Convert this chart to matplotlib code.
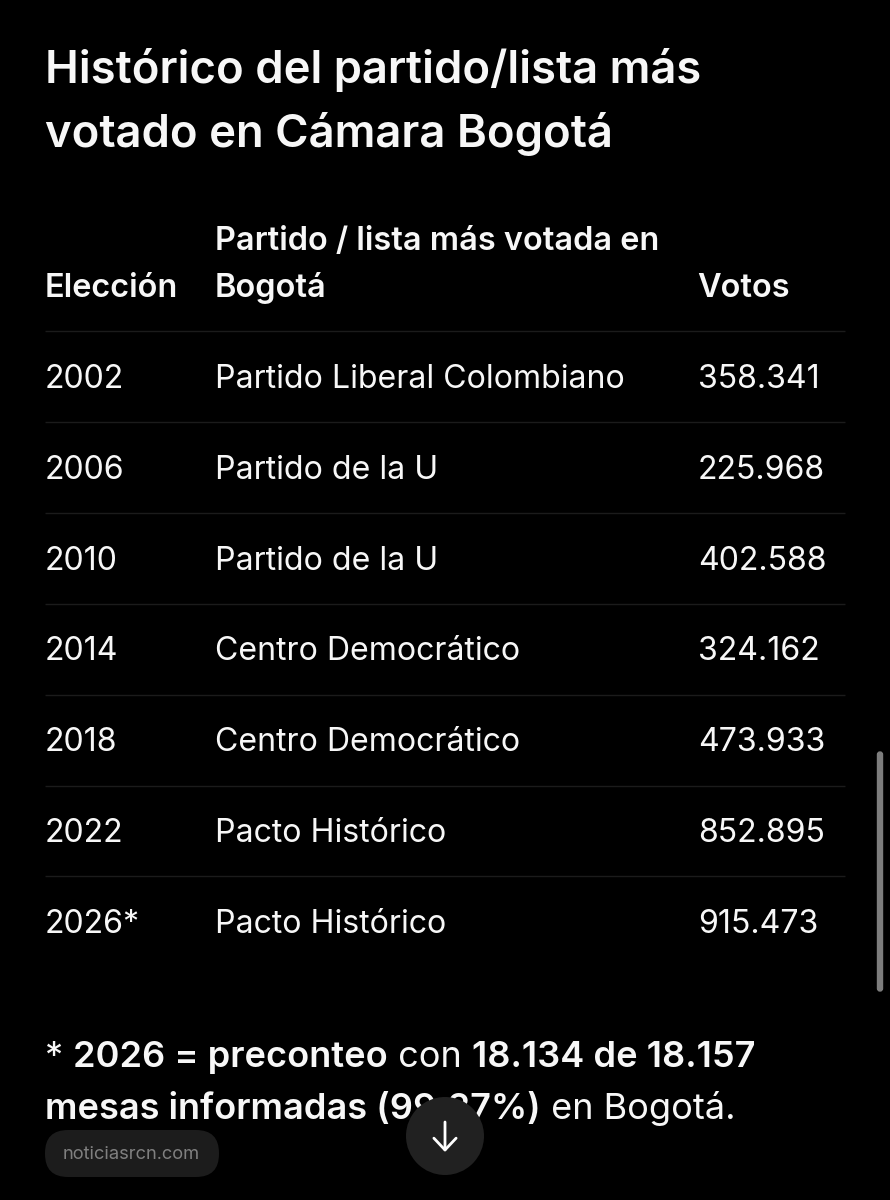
import matplotlib
matplotlib.use('Agg')
import matplotlib.pyplot as plt
from matplotlib.patches import Circle, FancyBboxPatch

# datos de la tabla
titulo = ['Histórico del partido/lista más', 'votado en Cámara Bogotá']
encabezados = ['Elección', 'Partido / lista más votada en', 'Bogotá', 'Votos']
elecciones = ['2002', '2006', '2010', '2014', '2018', '2022', '2026*']
partidos = ['Partido Liberal Colombiano', 'Partido de la U', 'Partido de la U',
            'Centro Democrático', 'Centro Democrático', 'Pacto Histórico', 'Pacto Histórico']
votos = ['358.341', '225.968', '402.588', '324.162', '473.933', '852.895', '915.473']

nota_1 = [('* ', False), ('2026 = preconteo', True), (' con ', False), ('18.134 de 18.157', True)]
nota_2 = [('mesas informadas (99.27%)', True), (' en Bogotá.', False)]

BLANCO = '#f7f7f7'
LINEA = '#1b1b1b'

plt.rcParams['font.family'] = ['Inter', 'DejaVu Sans']

fig = plt.figure(figsize=(8.9, 12), dpi=100, facecolor='black')
ax = fig.add_axes([0, 0, 1, 1])
ax.set_xlim(0, 890)
ax.set_ylim(1200, 0)
ax.axis('off')


def texto(x, y, s, size, peso='normal', color=BLANCO):
    return ax.text(x, y, s, fontsize=size, color=color, va='baseline', ha='left', fontweight=peso)


def linea_mixta(x, y, partes, size):
    # encadena trozos normal / negrita midiendo el ancho de cada uno
    r = fig.canvas.get_renderer()
    for s, bold in partes:
        t = texto(x, y, s, size, 'semibold' if bold else 'normal')
        x += t.get_window_extent(r).width


# titulo
texto(45, 83, titulo[0], 32.7, 'semibold')
texto(45, 147, titulo[1], 32.7, 'semibold')

# encabezados
texto(45, 297, encabezados[0], 23.4, 'semibold')
texto(215, 250, encabezados[1], 23.4, 'semibold')
texto(215, 297, encabezados[2], 23.4, 'semibold')
texto(697, 297, encabezados[3], 23.4, 'semibold')

# filas
for i in range(len(elecciones)):
    y_linea = 331.0 + i * 90.9
    ax.plot([45, 845], [y_linea, y_linea], color=LINEA, lw=1.0, solid_capstyle='butt')
    y = 388 + i * 90.8
    texto(45, y, elecciones[i], 23.1)
    texto(215, y, partidos[i], 23.1)
    texto(698, y, votos[i], 23.1)

# nota al pie
linea_mixta(45, 1067, nota_1, 26)
linea_mixta(45, 1119, nota_2, 26)

# barra de scroll
ax.add_patch(FancyBboxPatch((877.5, 752), 5, 239, boxstyle='round,pad=0,rounding_size=2.5',
                            fc='#7d7d7d', ec='#7d7d7d', lw=1))

# pastilla de la fuente
ax.add_patch(FancyBboxPatch((45, 1130), 174, 47, boxstyle='round,pad=0,rounding_size=23',
                            fc='#1c1c1c', ec='none'))
ax.text(131.5, 1154.5, 'noticiasrcn.com', fontsize=13.2, color='#808080', ha='center', va='center')

# boton con flecha
ax.add_patch(Circle((445, 1136), 39, fc='#212121', ec='none', zorder=5))
ax.annotate('', xy=(445, 1152), xytext=(445, 1122), zorder=6,
            arrowprops=dict(arrowstyle='->,head_length=0.85,head_width=0.8', color='white', lw=2.0,
                            shrinkA=0, shrinkB=0))

fig.savefig('out.png', dpi=100, facecolor='black')
